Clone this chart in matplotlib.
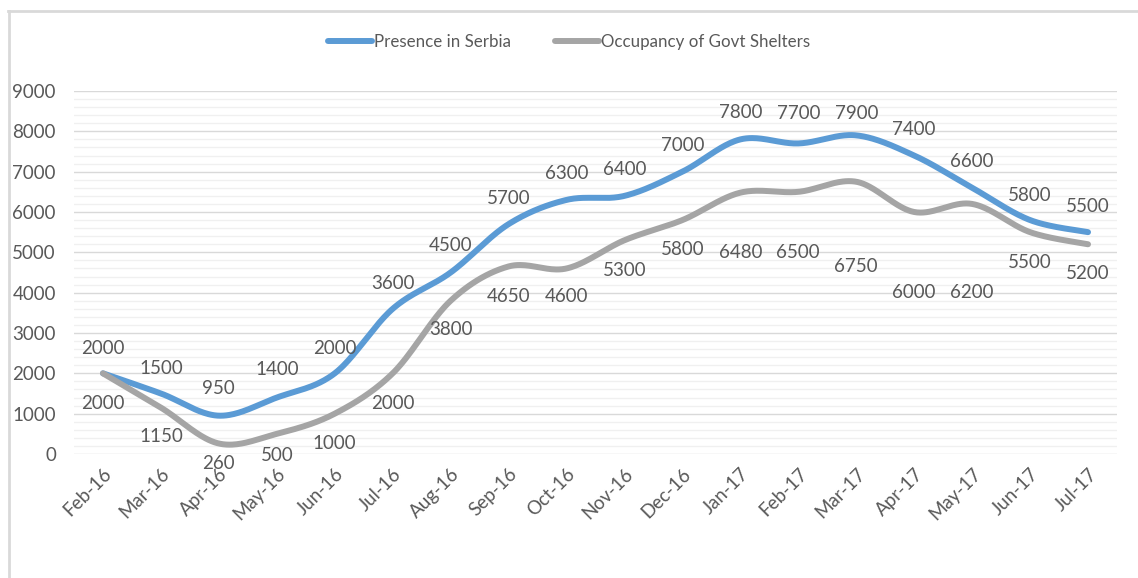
import numpy as np
import matplotlib
matplotlib.use("Agg")
import matplotlib.pyplot as plt
from matplotlib.lines import Line2D
from matplotlib.ticker import MultipleLocator

months = ["Feb-16", "Mar-16", "Apr-16", "May-16", "Jun-16", "Jul-16", "Aug-16",
          "Sep-16", "Oct-16", "Nov-16", "Dec-16", "Jan-17", "Feb-17", "Mar-17",
          "Apr-17", "May-17", "Jun-17", "Jul-17"]
presence = [2000, 1500, 950, 1400, 2000, 3600, 4500, 5700, 6300, 6400, 7000,
            7800, 7700, 7900, 7400, 6600, 5800, 5500]
occupancy = [2000, 1150, 260, 500, 1000, 2000, 3800, 4650, 4600, 5300, 5800,
             6480, 6500, 6750, 6000, 6200, 5500, 5200]
series_names = ["Presence in Serbia", "Occupancy of Govt Shelters"]

# label vertical offsets in pixels (positive = up)
presence_dy = [25, 25, 27, 28, 25, 25, 27, 26, 26, 26, 26, 27, 30, 22, 26, 26, 25, 26]
occupancy_dy = [-30, -29, -20, -22, -30, -30, -29, -30, -28, -30, -29, -60, -61, -85,
                -81, -89, -30, -29]

BLUE = "#5B9BD5"
GRAY = "#A5A5A5"
TXT = "#595959"

plt.rcParams['font.family'] = ['Lato', 'DejaVu Sans']


def excel_smooth(xs, ys, n=40):
    P = np.column_stack([xs, ys]).astype(float)
    m = len(P)
    out = [P[0]]
    t = np.linspace(0, 1, n)[1:]
    for i in range(m - 1):
        p0 = P[i - 1] if i > 0 else P[i]
        p1 = P[i]
        p2 = P[i + 1]
        p3 = P[i + 2] if i + 2 < m else P[i + 1]
        c1 = p1 + (p2 - p0) / 6.0
        c2 = p2 - (p3 - p1) / 6.0
        tt = t[:, None]
        seg = ((1 - tt) ** 3) * p1 + 3 * ((1 - tt) ** 2) * tt * c1 + \
            3 * (1 - tt) * tt ** 2 * c2 + tt ** 3 * p2
        out.extend(seg)
    out = np.array(out)
    return out[:, 0], out[:, 1]


fig = plt.figure(figsize=(11.38, 5.78), dpi=100)
ax = fig.add_axes([74 / 1138, (578 - 454) / 578, (1117 - 74) / 1138, (454 - 91) / 578])

x = np.arange(len(months))
for vals, col, name in [(presence, BLUE, series_names[0]), (occupancy, GRAY, series_names[1])]:
    sx, sy = excel_smooth(x, vals)
    ax.plot(sx, sy, color=col, lw=4.3, solid_capstyle='round', label=name, zorder=3)

FS = 13.5
for xi, v, dy in zip(x, presence, presence_dy):
    ax.annotate(str(v), (xi, v), xytext=(0, dy), textcoords='offset pixels',
                ha='center', va='center', fontsize=FS, color=TXT, zorder=4)
for xi, v, dy in zip(x, occupancy, occupancy_dy):
    ax.annotate(str(v), (xi, v), xytext=(0, dy), textcoords='offset pixels',
                ha='center', va='center', fontsize=FS, color=TXT, zorder=4)

ax.set_xlim(-0.5, len(months) - 0.5)
ax.set_ylim(0, 9000)
ax.yaxis.set_major_locator(MultipleLocator(1000))
ax.yaxis.set_minor_locator(MultipleLocator(200))
ax.grid(which='major', axis='y', color='#D9D9D9', lw=1.0, zorder=0)
ax.grid(which='minor', axis='y', color='#F0F0F0', lw=1.0, zorder=0)
ax.set_axisbelow(True)
for s in ax.spines.values():
    s.set_visible(False)
ax.set_xticks(x)
ax.set_xticklabels(months, rotation=45, ha='right', rotation_mode='anchor')
ax.tick_params(axis='both', which='both', length=0, colors=TXT, labelsize=FS)
ax.tick_params(axis='y', pad=13)
ax.tick_params(axis='x', pad=8)

fig.legend(loc='center', bbox_to_anchor=(0.5, 1 - 42 / 578), ncol=2, frameon=False,
           fontsize=12.2, handlelength=2.6, handletextpad=0.1, columnspacing=2.6,
           labelcolor=TXT)

# chart area border (top and left only visible)
fig.add_artist(Line2D([8 / 1138, 1], [1 - 11 / 578, 1 - 11 / 578], transform=fig.transFigure,
                      color='#D9D9D9', lw=2))
fig.add_artist(Line2D([9 / 1138, 9 / 1138], [0, 1 - 11 / 578], transform=fig.transFigure,
                      color='#D9D9D9', lw=2))

fig.savefig("out.png", dpi=100)
